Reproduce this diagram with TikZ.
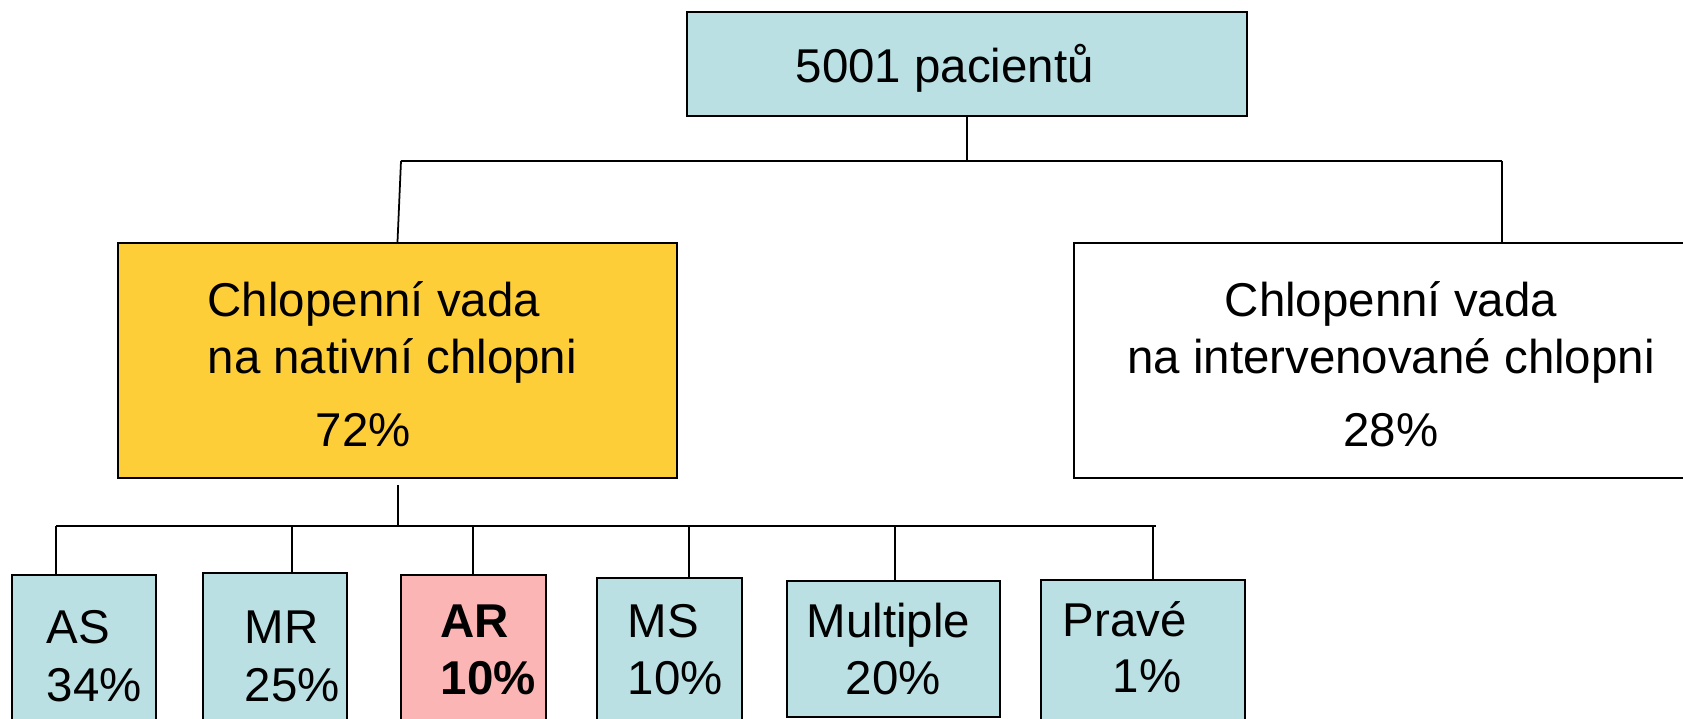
\documentclass[tikz,border=0pt]{standalone}
\usepackage{fontspec}
\setmainfont{Liberation Sans}
\definecolor{boxcyan}{HTML}{BAE0E4}
\definecolor{boxyellow}{HTML}{FECE38}
\definecolor{boxpink}{HTML}{FBB5B5}
\tikzset{
    box/.style={draw, line width=0.6pt, rectangle, inner sep=0pt},
    txt/.style={anchor=base west, inner sep=0pt, font=\fontsize{13.5}{16}\selectfont},
    ctxt/.style={anchor=base, inner sep=0pt, font=\fontsize{13.5}{16}\selectfont},
    link/.style={line width=0.5pt}
}
\begin{document}
\begin{tikzpicture}[x=0.1mm,y=-0.1mm]
            \useasboundingbox (0,0) rectangle (1683,719);
            % boxes
            \node[box, fill=boxcyan, minimum width=5.6cm, minimum height=1.04cm] (top) at (967,64) {};
            \node[box, fill=boxyellow, minimum width=5.59cm, minimum height=2.35cm] (native) at (397.5,360.5) {};
            \node[box, fill=white, minimum width=6.32cm, minimum height=2.35cm] (interv) at (1390,360.5) {};
            \node[box, fill=boxcyan, minimum width=1.44cm, minimum height=1.55cm] (as) at (84,652.5) {};
            \node[box, fill=boxcyan, minimum width=1.44cm, minimum height=1.57cm] (mr) at (275,651.5) {};
            \node[box, fill=boxpink, minimum width=1.45cm, minimum height=1.55cm] (ar) at (473.5,652.5) {};
            \node[box, fill=boxcyan, minimum width=1.45cm, minimum height=1.52cm] (ms) at (669.5,654) {};
            \node[box, fill=boxcyan, minimum width=2.13cm, minimum height=1.36cm] (mult) at (893.5,649) {};
            \node[box, fill=boxcyan, minimum width=2.04cm, minimum height=1.50cm] (prave) at (1143,655) {};
            % texts
            \node[txt] (toptxt) at (795,83) {5001 pacientů};
            \node[txt] (nat1) at (207,317) {Chlopenní vada};
            \node[txt] (nat2) at (207,374) {na nativní chlopni};
            \node[txt] (nat3) at (315,447) {72\%};
            \node[ctxt] (int1) at (1391,317) {Chlopenní vada};
            \node[ctxt] (int2) at (1391,374) {na intervenované chlopni};
            \node[ctxt] (int3) at (1391,447) {28\%};
            \node[txt] (as1) at (46,644) {AS};
            \node[txt] (as2) at (46,702) {34\%};
            \node[txt] (mr1) at (244,644) {MR};
            \node[txt] (mr2) at (244,702) {25\%};
            \node[txt, font=\fontsize{13.5}{16}\selectfont\bfseries] (ar1) at (440,638) {AR};
            \node[txt, font=\fontsize{13.5}{16}\selectfont\bfseries] (ar2) at (440,695) {10\%};
            \node[txt] (ms1) at (627,638) {MS};
            \node[txt] (ms2) at (627,695) {10\%};
            \node[txt] (mult1) at (806,638) {Multiple};
            \node[txt] (mult2) at (845,695) {20\%};
            \node[txt] (prave1) at (1062,637) {Pravé};
            \node[txt] (prave2) at (1112,693) {1\%};
            % upper tree
            \coordinate (jt) at (967,161);
            \coordinate (jl) at (401,161);
            \coordinate (jr) at (1502,161);
            \draw[link] (top.south) -- (jt);
            \draw[link] (jl) -- (jr);
            \draw[link] (jl) -- (native.north);
            \draw[link] (jr) -- (jr |- interv.north);
            % lower tree
            \coordinate (jn) at (398,485);
            \coordinate (bl) at (56,526);
            \coordinate (br) at (1156,526);
            \draw[link] (jn) -- (jn |- bl);
            \draw[link] (bl) -- (br);
            \foreach \x/\n in {56/as, 292/mr, 473/ar, 689/ms, 895/mult, 1153/prave} {
                \coordinate (s\n) at (\x,526);
                \draw[link] (s\n) -- (s\n |- \n.north);
            }
        \end{tikzpicture}
\end{document}
